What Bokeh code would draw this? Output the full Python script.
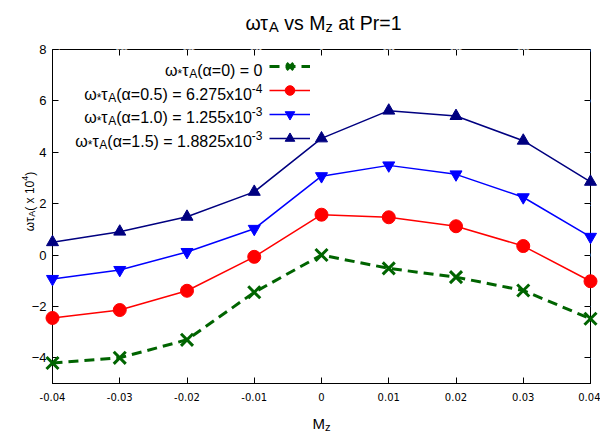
import math
from bokeh.plotting import figure
from bokeh.models import Range1d, FixedTicker, LinearAxis, Legend, LegendItem, ColumnDataSource
from bokeh.core.properties import value
from bokeh.embed import file_html
from bokeh.resources import INLINE

# ---------------- data ----------------
mz = [-0.04, -0.03, -0.02, -0.01, 0.0, 0.01, 0.02, 0.03, 0.04]
w_alpha00 = [-4.20, -4.00, -3.30, -1.45, 0.00, -0.52, -0.86, -1.38, -2.48]
w_alpha05 = [-2.45, -2.14, -1.39, -0.07, 1.57, 1.47, 1.12, 0.35, -1.02]
w_alpha10 = [-0.93, -0.58, 0.12, 1.02, 3.07, 3.49, 3.14, 2.25, 0.71]
w_alpha15 = [0.50, 0.91, 1.49, 2.46, 4.54, 5.62, 5.41, 4.45, 2.85]

x_ticks = [-0.04, -0.03, -0.02, -0.01, 0.0, 0.01, 0.02, 0.03, 0.04]
x_tick_labels = ["-0.04", "-0.03", "-0.02", "-0.01", "0", "0.01", "0.02", "0.03", "0.04"]
y_ticks = [-4, -2, 0, 2, 4, 6, 8]
X_MIN, X_MAX = -0.04, 0.04
Y_MIN, Y_MAX = -5, 8

legend_rows = [
    [("ω", "m"), ("*", "sub"), ("τ", "m"), ("A", "sub"), ("(α=0) = 0", "m")],
    [("ω", "m"), ("*", "sub"), ("τ", "m"), ("A", "sub"), ("(α=0.5) = 6.275x10", "m"), ("-4", "sup")],
    [("ω", "m"), ("*", "sub"), ("τ", "m"), ("A", "sub"), ("(α=1.0) = 1.255x10", "m"), ("-3", "sup")],
    [("ω", "m"), ("*", "sub"), ("τ", "m"), ("A", "sub"), ("(α=1.5) = 1.8825x10", "m"), ("-3", "sup")],
]
title_segs = [("ωτ", "m"), ("A", "sub"), (" vs M", "m"), ("z", "sub"), (" at Pr=1", "m")]
ylabel_segs = [("ωτ", "m"), ("A", "sub"), ("( x 10", "m"), ("4", "sup"), (")", "m")]
xlabel_segs = [("M", "m"), ("z", "sub")]

# ---------------- figure ----------------
FRAME_L, FRAME_B = 52, 383   # canvas px of frame left / bottom

p = figure(width=600, height=433, output_backend="svg", toolbar_location=None,
           x_range=Range1d(X_MIN, X_MAX), y_range=Range1d(Y_MIN, Y_MAX),
           min_border_left=52, min_border_right=9, min_border_top=49, min_border_bottom=50)
p.xgrid.visible = False
p.ygrid.visible = False
p.outline_line_color = "black"
p.outline_line_width = 1

# mirror axes on top and right (ticks only; their labels are painted white on white)
top_axis = LinearAxis()
right_axis = LinearAxis()
p.add_layout(top_axis, "above")
p.add_layout(right_axis, "right")


def style_axis(ax, ticks, labels=None):
    ax.ticker = FixedTicker(ticks=ticks)
    ax.major_tick_in = 6
    ax.major_tick_out = 0
    ax.minor_tick_in = 0
    ax.minor_tick_out = 0
    ax.axis_line_color = "black"
    ax.major_tick_line_color = "black"
    if labels is not None:
        ax.major_label_overrides = dict(zip(ticks, labels))


style_axis(p.below[0], x_ticks, x_tick_labels)
style_axis(p.left[0], y_ticks)
style_axis(top_axis, x_ticks)
style_axis(right_axis, y_ticks)
for ax in (top_axis, right_axis):
    ax.major_label_text_color = "white"
    ax.major_label_text_font_size = "6px"
    ax.major_label_standoff = 0

bx = p.below[0]
bx.major_label_text_font = "DejaVu Sans"
bx.major_label_text_font_size = "10px"
bx.major_label_text_color = "black"
bx.major_label_standoff = 9

ly = p.left[0]
ly.major_label_text_font = "Liberation Sans"
ly.major_label_text_font_size = "13px"
ly.major_label_text_color = "black"
ly.major_label_standoff = 6

# ---------------- series ----------------
GREEN, RED, BLUE, NAVY = "#006400", "#ff0000", "#0000ff", "#000080"

g_line = p.line(mz, w_alpha00, line_color=GREEN, line_width=3, line_dash="10 6")
g_pts = p.scatter(mz, w_alpha00, marker="x", size=17, line_color=GREEN, line_width=3, level="overlay")

r_line = p.line(mz, w_alpha05, line_color=RED, line_width=1.5)
r_pts = p.scatter(mz, w_alpha05, marker="circle", size=13, line_color=RED, fill_color=RED, level="overlay")

b_line = p.line(mz, w_alpha10, line_color=BLUE, line_width=1.5)
b_pts = p.scatter(mz, w_alpha10, marker="inverted_triangle", size=12, line_color=BLUE,
                  fill_color=BLUE, level="overlay")

n_line = p.line(mz, w_alpha15, line_color=NAVY, line_width=1.5)
n_pts = p.scatter(mz, w_alpha15, marker="triangle", size=12, line_color=NAVY, fill_color=NAVY,
                  level="overlay")

legend = Legend(
    items=[LegendItem(label=" ", renderers=[g_line, g_pts]),
           LegendItem(label=" ", renderers=[r_line, r_pts]),
           LegendItem(label=" ", renderers=[b_line, b_pts]),
           LegendItem(label=" ", renderers=[n_line, n_pts])],
    location=(217, 233), glyph_width=41, glyph_height=24, label_height=24,
    label_width=0, label_standoff=0, spacing=0, padding=0, margin=0,
    border_line_alpha=0, background_fill_alpha=0, label_text_font_size="1px")
p.add_layout(legend)

# ---------------- rich texts (text glyphs anchored at the frame's bottom-left) ----------------
CW = {' ': .278, '(': .333, ')': .333, '=': .584, '.': .278, 'x': .5, '-': .333, 'A': .667,
      'M': .833, 'z': .5, 'v': .5, 's': .5, 'a': .556, 't': .278, 'P': .667, 'r': .333,
      '*': .389, 'α': .579, 'ω': .781, 'τ': .433}
SCALE = {"m": 1.0, "sub": 0.75, "sup": 0.75}
SHIFT = {"m": 0.0, "sub": -0.22, "sup": 0.38}

T = dict(x=[], y=[], text=[], xo=[], yo=[], size=[], angle=[])


def tw(s, size):
    return sum(CW.get(c, .556) for c in s) * size


def rich(segs, cx, cy, size, align="left", angle=0.0):
    widths = [tw(t, size * SCALE[r]) for t, r in segs]
    total = sum(widths)
    d = {"left": 0.0, "right": -total, "center": -total / 2}[align]
    ca, sa = math.cos(angle), math.sin(angle)
    for (t, r), w in zip(segs, widths):
        fs = size * SCALE[r]
        lead = len(t) - len(t.lstrip(" "))
        dd = d + tw(" " * lead, fs)
        off = SHIFT[r] * size
        sx = cx + dd * ca - off * sa
        sy = cy - dd * sa - off * ca
        T["x"].append(X_MIN)
        T["y"].append(Y_MIN)
        T["text"].append(t.strip(" "))
        T["xo"].append(sx - FRAME_L)
        T["yo"].append(sy - FRAME_B)
        T["size"].append(f"{fs:.1f}px")
        T["angle"].append(angle)
        d += w


rich(title_segs, 323, 22, 19.5, align="center")
for segs, base in zip(legend_rows, [70, 94, 117, 141]):
    rich(segs, 262, base, 16, align="right")
rich(ylabel_segs, 29, 201, 12, align="center", angle=math.pi / 2)
rich(xlabel_segs, 321, 423, 15, align="center")

src = ColumnDataSource(T)
p.text(x="x", y="y", text="text", x_offset="xo", y_offset="yo", text_font_size="size",
       angle="angle", source=src, text_font=value("Liberation Sans"), text_color="black",
       text_align="left", text_baseline="alphabetic", level="overlay")

open("out.html", "w").write(file_html(p, INLINE))
